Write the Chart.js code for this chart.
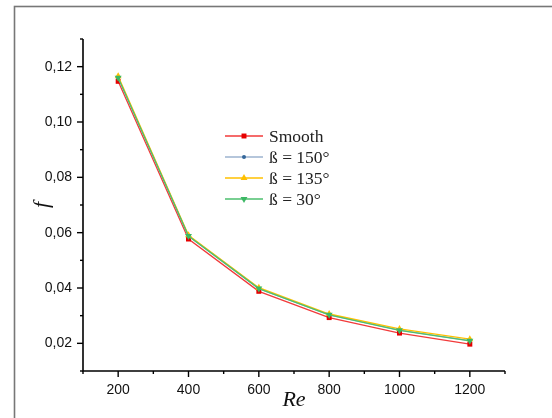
<!DOCTYPE html>
<html>
<head>
<meta charset="utf-8">
<script src="https://cdn.jsdelivr.net/npm/chart.js@4"></script>
<style>
  html, body { margin: 0; padding: 0; background: #fff; }
  #grafico { display: block; }
</style>
</head>
<body>
<canvas id="grafico" width="552" height="418"></canvas>
<script>
/* Factor de fricción vs Re */

const reynolds = [200, 400, 600, 800, 1000, 1200];
const fSmooth = [0.1147, 0.0577, 0.0388, 0.0293, 0.0237, 0.0197];
const fBeta150 = [0.1160, 0.0588, 0.0398, 0.0303, 0.0248, 0.0210];
const fBeta135 = [0.1165, 0.0591, 0.0401, 0.0306, 0.0252, 0.0215];
const fBeta30 = [0.1160, 0.0588, 0.0398, 0.0303, 0.0247, 0.0209];
const nombres = ['Smooth', 'ß = 150°', 'ß = 135°', 'ß = 30°'];

// pares x,y para la escala lineal
const puntos = arr => arr.map((v, i) => ({ x: reynolds[i], y: v }));

// marco gris y fondo blanco
const marco = {
  id: 'marco',
  beforeDraw(chart) {
    const c = chart.ctx;
    c.save();
    c.fillStyle = '#fff';
    c.fillRect(0, 0, chart.width, chart.height);
    c.strokeStyle = '#777';
    c.lineWidth = 1.6;
    c.strokeRect(14.5, 6.5, 700, 600);
    c.restore();
  }
};

// ejes con ticks mayores y menores
const ejes = {
  id: 'ejes',
  afterDraw(chart) {
    const c = chart.ctx;
    const { left, right, top, bottom } = chart.chartArea;
    const sx = chart.scales.x, sy = chart.scales.y;
    c.save();
    c.strokeStyle = '#000';
    c.lineWidth = 1.6;
    c.beginPath();
    c.moveTo(left, top); c.lineTo(left, bottom); c.lineTo(right, bottom);
    c.stroke();
    c.lineWidth = 1.4;
    sx.ticks.forEach(t => {
      const px = sx.getPixelForValue(t.value);
      const largo = (Math.round(t.value / 100) % 2 === 0) ? 6 : 3;
      c.beginPath(); c.moveTo(px, bottom); c.lineTo(px, bottom + largo); c.stroke();
    });
    sy.ticks.forEach(t => {
      const py = sy.getPixelForValue(t.value);
      const largo = (Math.round(t.value * 100) % 2 === 0) ? 6 : 3;
      c.beginPath(); c.moveTo(left, py); c.lineTo(left - largo, py); c.stroke();
    });
    c.restore();
  }
};

// leyenda dentro del área
const leyenda = {
  id: 'leyenda',
  afterDraw(chart) {
    const c = chart.ctx;
    c.save();
    chart.data.datasets.forEach((ds, i) => {
      const y = 136 + i * 21;
      c.strokeStyle = ds.borderColor;
      c.lineWidth = 1.4;
      c.beginPath(); c.moveTo(225, y); c.lineTo(263, y); c.stroke();
      c.fillStyle = ds.pointBackgroundColor;
      c.strokeStyle = ds.pointBackgroundColor;
      Chart.helpers.drawPoint(c, {
        pointStyle: ds.pointStyle,
        radius: ds.pointRadius,
        rotation: ds.pointRotation || 0,
        borderWidth: 0
      }, 244, y);
      c.fillStyle = '#222';
      c.font = '17.5px "Liberation Serif"';
      c.textBaseline = 'middle';
      c.fillText(ds.label, 269, y + 1);
    });
    c.restore();
  }
};

const serie = (label, data, linea, punto, estilo, radio, orden, rot) => ({
  label,
  data: puntos(data),
  borderColor: linea,
  backgroundColor: punto,
  pointBackgroundColor: punto,
  pointBorderColor: punto,
  pointBorderWidth: 0,
  pointStyle: estilo,
  pointRadius: radio,
  pointRotation: rot || 0,
  borderWidth: 1.3,
  tension: 0,
  order: orden
});

new Chart(document.getElementById('grafico'), {
  type: 'line',
  data: {
    datasets: [
      serie(nombres[0], fSmooth, '#f23a3a', '#e60000', 'rect', 3.5, 3),
      serie(nombres[1], fBeta150, '#9db3cf', '#34679a', 'circle', 2, 2),
      serie(nombres[2], fBeta135, '#ffc000', '#ffc000', 'triangle', 4, 1),
      serie(nombres[3], fBeta30, '#4dbf6e', '#3cb864', 'triangle', 4, 0, 180)
    ]
  },
  plugins: [marco, ejes, leyenda],
  options: {
    responsive: false,
    animation: false,
    layout: { padding: { left: 0, top: 39, right: 47, bottom: 0 } },
    plugins: {
      legend: { display: false },
      tooltip: { enabled: false }
    },
    scales: {
      x: {
        type: 'linear',
        min: 100,
        max: 1300,
        afterFit: s => { s.height = 47; },
        afterBuildTicks: s => {
          s.ticks = [];
          for (let v = 100; v <= 1300; v += 100) s.ticks.push({ value: v });
        },
        grid: { display: false, drawTicks: false },
        border: { display: false },
        ticks: {
          autoSkip: false,
          maxRotation: 0,
          padding: 11,
          color: '#111',
          font: { family: '"Liberation Sans"', size: 14 },
          callback: v => (Math.round(v / 100) % 2 === 0) ? String(v) : ''
        },
        title: {
          display: true,
          text: 'Re',
          color: '#111',
          padding: { top: 0, bottom: 5 },
          font: { family: '"Liberation Serif"', size: 22, style: 'italic' }
        }
      },
      y: {
        min: 0.01,
        max: 0.13,
        afterFit: s => { s.width = 83; },
        afterBuildTicks: s => {
          s.ticks = [];
          for (let k = 1; k <= 13; k++) s.ticks.push({ value: k / 100 });
        },
        grid: { display: false, drawTicks: false },
        border: { display: false },
        ticks: {
          autoSkip: false,
          padding: 11,
          color: '#111',
          font: { family: '"Liberation Sans"', size: 14 },
          callback: v => {
            const k = Math.round(v * 100);
            return (k % 2 === 0) ? v.toFixed(2).replace('.', ',') : '';
          }
        },
        title: {
          display: true,
          text: 'f',
          color: '#111',
          padding: { top: 29, bottom: 0 },
          font: { family: '"Liberation Serif"', size: 22, style: 'italic' }
        }
      }
    }
  }
});
</script>
</body>
</html>
